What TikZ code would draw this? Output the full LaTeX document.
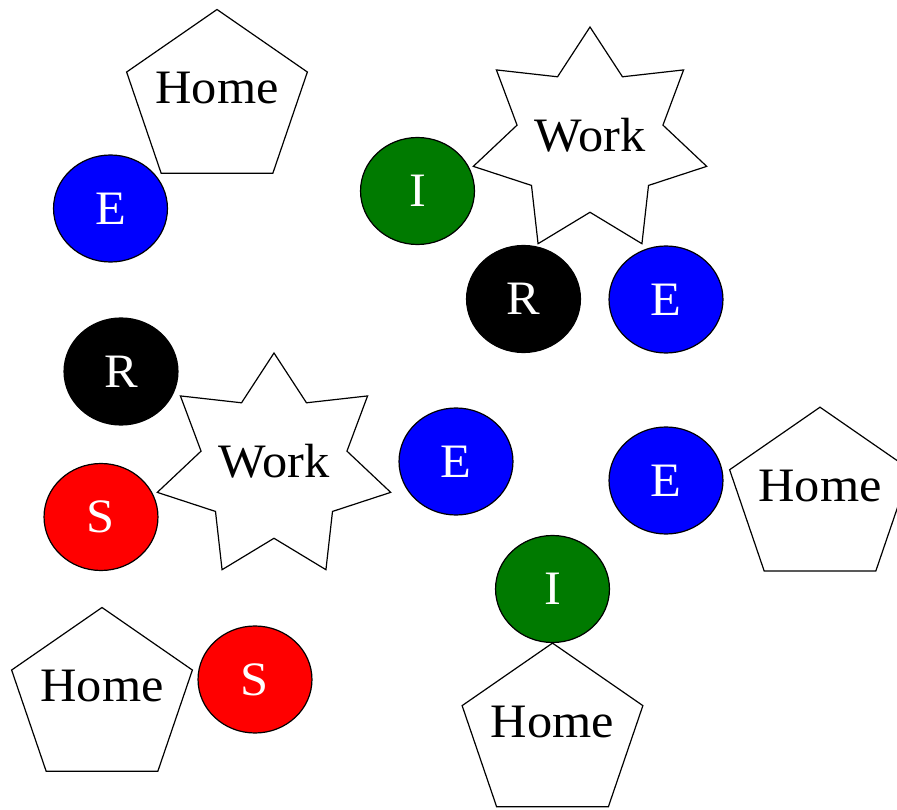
\documentclass[tikz,border=0pt]{standalone}
\usepackage{fontspec}
\setmainfont{Liberation Serif}
\usetikzlibrary{shapes.geometric}
\definecolor{dgreen}{RGB}{0,122,0}
\tikzset{
  shp/.style={xscale=1.05, line width=1.2pt, draw=black, fill=white, inner sep=0pt},
  dot/.style={shp, ellipse, minimum width=108.5pt, minimum height=107pt, text=white},
  homebox/.style={shp, regular polygon, regular polygon sides=5, minimum size=181pt,
     label={[xscale=1.05, yshift=11.5pt]center:Home}},
  workbox/.style={shp, star, star points=7, star point ratio=1.6, minimum size=228pt,
     label={[xscale=1.05, yshift=6pt]center:Work}},
}
\begin{document}
\begin{tikzpicture}[x=1pt, y=-1pt, font=\fontsize{48}{48}\selectfont]
\clip (0,0) rectangle (897,810);
\fill[white] (0,0) rectangle (897,810);
% top-left group
\node[homebox] (home1) at (217,100) {};
\node[dot, fill=blue] (e1) at (110.5,208.5) {E};
% top-right group
\node[workbox] (work1) at (590,141) {};
\node[dot, fill=dgreen] (i1) at (417.5,191) {I};
\node[dot, fill=black] (r1) at (523.5,299) {R};
\node[dot, fill=blue] (e2) at (666,299.5) {E};
% middle-left group
\node[dot, fill=black] (r2) at (121,371.5) {R};
\node[workbox] (work2) at (274,467) {};
\node[dot, fill=red] (s1) at (101,517) {S};
\node[dot, fill=blue] (e3) at (456,461.5) {E};
% right group
\node[dot, fill=blue] (e4) at (666,480.5) {E};
\node[homebox] (home2) at (820,497.7) {};
% bottom
\node[homebox] (home4) at (552.5,733.6) {};
\node[dot, fill=dgreen] (i2) at (552.5,589) {I};
\node[homebox] (home3) at (102,698) {};
\node[dot, fill=red] (s2) at (255,679.5) {S};
\end{tikzpicture}
\end{document}
